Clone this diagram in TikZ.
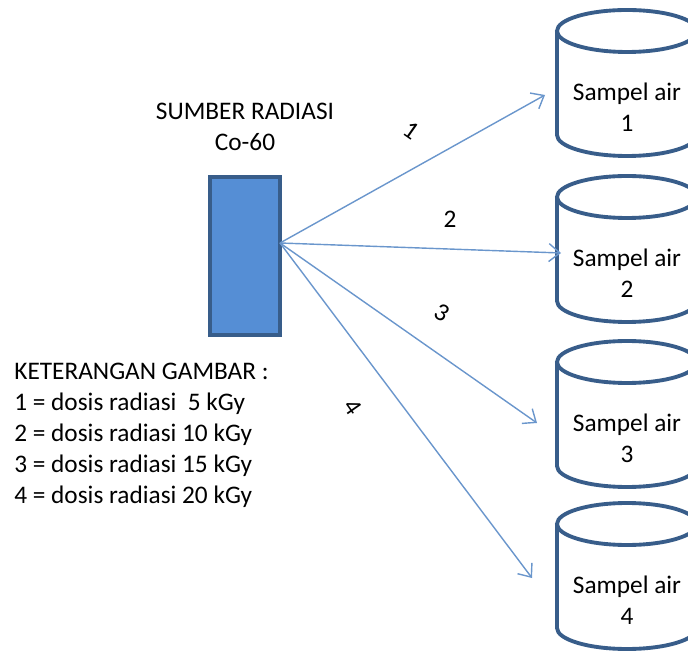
\documentclass[tikz,border=0pt]{standalone}
\usepackage{fontspec}
\setmainfont{Carlito}
\usetikzlibrary{positioning,arrows.meta}

\definecolor{srcfill}{HTML}{558ED5}
\definecolor{outline}{HTML}{385D8A}
\definecolor{ray}{HTML}{6A96CC}

\tikzset{
	every node/.style={font=\fontsize{14.4}{17.6}\selectfont},
	cylline/.style={draw=outline,line width=2.2pt},
	beam/.style={draw=ray,line width=0.8pt,-{Straight Barb[length=2.2mm,width=3.6mm]}},
	pics/sampel/.style={code={
		\draw[cylline] (0,-21) ellipse [x radius=1.4cm, y radius=0.42cm];
		\draw[cylline] (-70,-21) -- (-70,-125)
			arc[start angle=180,end angle=360,x radius=1.4cm,y radius=0.42cm] -- (70,-21);
	}},
}

\begin{document}
\begin{tikzpicture}[x=0.02cm,y=0.02cm]
\useasboundingbox (0,0) rectangle (688,652);

%Radiation Source
\node [draw=outline,
	line width=2pt,
	fill=srcfill,
	minimum width=1.4cm,
	minimum height=3.16cm,
]  (src)at (245,396) {};
\node [above=0.48cm of src,align=center,inner sep=0]  (srctext) {SUMBER RADIASI\\Co-60};

%Legend
\node [anchor=north west,align=left,inner sep=0]  (legend)at (14,289) {KETERANGAN GAMBAR :\\
1 = dosis radiasi~~5 kGy\\
2 = dosis radiasi 10 kGy\\
3 = dosis radiasi 15 kGy\\
4 = dosis radiasi 20 kGy};

%Water Samples
\pic at (627,642) {sampel};
\node [align=center]  (sampel1)at (627,545) {Sampel air\\1};
\pic at (627,476) {sampel};
\node [align=center]  (sampel2)at (627,379) {Sampel air\\2};
\pic at (627,311) {sampel};
\node [align=center]  (sampel3)at (627,214) {Sampel air\\3};
\pic at (627,149) {sampel};
\node [align=center]  (sampel4)at (627,52) {Sampel air\\4};

%Beams
\coordinate (ray) at (280,409);
\coordinate (tip1) at (545,557);
\coordinate (tip2) at (561,399);
\coordinate (tip3) at (537,229);
\coordinate (tip4) at (532,74);
\draw[beam] (ray) -- (tip1);
\draw[beam] (ray) -- (tip2);
\draw[beam] (ray) -- (tip3);
\draw[beam] (ray) -- (tip4);

%Dose labels
\node [rotate=-35]  (dose1)at (411,521) {1};
\node []  (dose2)at (450,433) {2};
\node [rotate=-30]  (dose3)at (442,339) {3};
\node [rotate=-55]  (dose4)at (353,245) {4};

\end{tikzpicture}
\end{document}
